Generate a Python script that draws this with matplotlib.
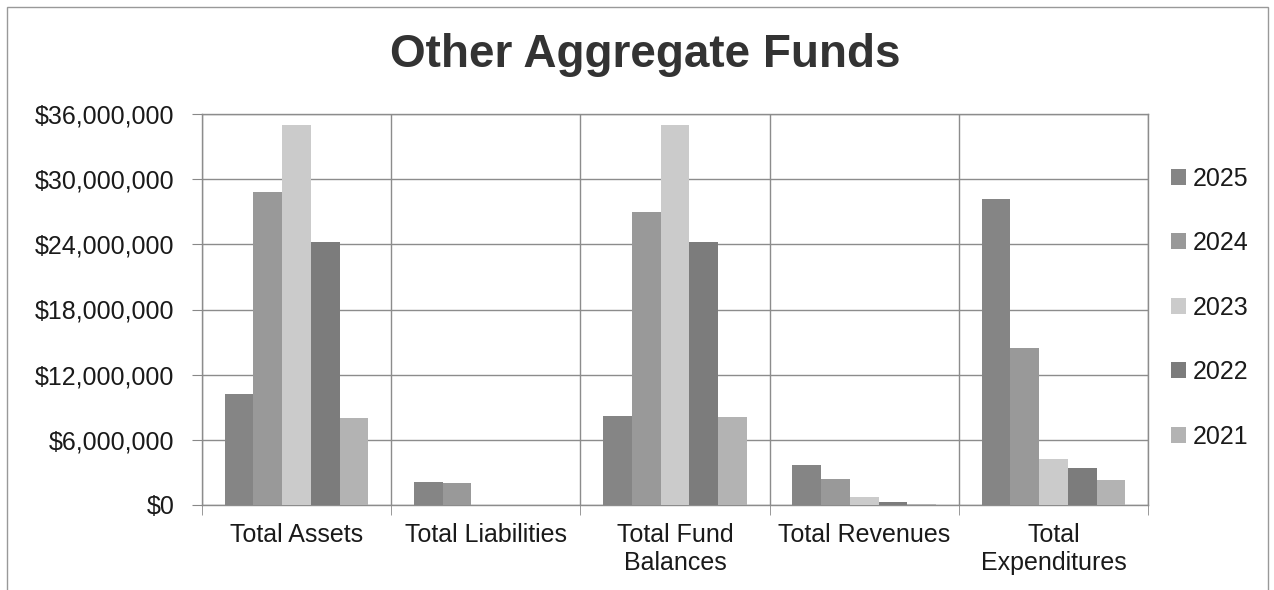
import matplotlib
matplotlib.use("Agg")
import matplotlib.pyplot as plt
import numpy as np
from matplotlib.ticker import FuncFormatter, MultipleLocator, FixedLocator
from matplotlib.patches import Rectangle

categories = ["Total Assets", "Total Liabilities", "Total Fund\nBalances",
              "Total Revenues", "Total\nExpenditures"]
series_names = ["2025", "2024", "2023", "2022", "2021"]
v2025 = [10200000, 2100000, 8200000, 3700000, 28200000]
v2024 = [28800000, 2000000, 27000000, 2400000, 14500000]
v2023 = [35000000, 0, 35000000, 700000, 4200000]
v2022 = [24200000, 0, 24200000, 250000, 3400000]
v2021 = [8000000, 0, 8100000, 50000, 2300000]
series_values = [v2025, v2024, v2023, v2022, v2021]
colors = ["#858585", "#999999", "#cbcbcb", "#7c7c7c", "#b3b3b3"]

plt.rcParams['font.family'] = ['Liberation Sans', 'DejaVu Sans']

fig = plt.figure(figsize=(12.74, 5.90), dpi=100)
ax = fig.add_axes([202/1274, 1-505/590, (1148-202)/1274, (505-114)/590])

x = np.arange(len(categories))
bw = 0.152
n = len(series_names)
for i, (name, vals, c) in enumerate(zip(series_names, series_values, colors)):
    offs = (i - (n-1)/2) * bw
    ax.bar(x + offs, vals, width=bw, color=c, label=name, zorder=3, linewidth=0)

ax.set_xlim(-0.5, len(categories)-0.5)
ax.set_ylim(0, 36000000)
ax.yaxis.set_major_locator(MultipleLocator(6000000))
ax.yaxis.set_major_formatter(FuncFormatter(lambda v, p: "${:,.0f}".format(v)))
ax.set_xticks(x)
ax.set_xticklabels(categories, fontsize=18, linespacing=1.2, color="#1a1a1a")
ax.xaxis.set_minor_locator(FixedLocator(np.arange(-0.5, len(categories), 1.0)))
ax.tick_params(axis='x', which='major', length=0, pad=13)
ax.tick_params(axis='x', which='minor', length=7, color="#888888", direction='out')
ax.tick_params(axis='y', labelsize=18, length=7, color="#888888", pad=13,
               labelcolor="#1a1a1a")
ax.grid(True, axis='y', color="#8c8c8c", linewidth=1.0, zorder=0)
ax.grid(True, axis='x', which='minor', color="#8c8c8c", linewidth=1.0, zorder=0)
for s in ax.spines.values():
    s.set_color("#8c8c8c")
    s.set_linewidth(1.0)

fig.text(645/1274, 1-55/590, "Other Aggregate Funds", ha='center', va='center',
         fontsize=33, fontweight='bold', color="#333333")

leg = ax.legend(loc='center left', bbox_to_anchor=(1.0, 0.505), frameon=False,
                fontsize=18, handlelength=0.6, handleheight=0.6,
                handletextpad=0.3, labelspacing=1.62, borderaxespad=0.5)
for t in leg.get_texts():
    t.set_color("#1a1a1a")

fig.patches.append(Rectangle((7/1274, -0.05), (1268-7)/1274, 1.05-7/590,
                             transform=fig.transFigure, fill=False,
                             edgecolor="#999999", linewidth=1.0))

fig.savefig("out.png", dpi=100)
